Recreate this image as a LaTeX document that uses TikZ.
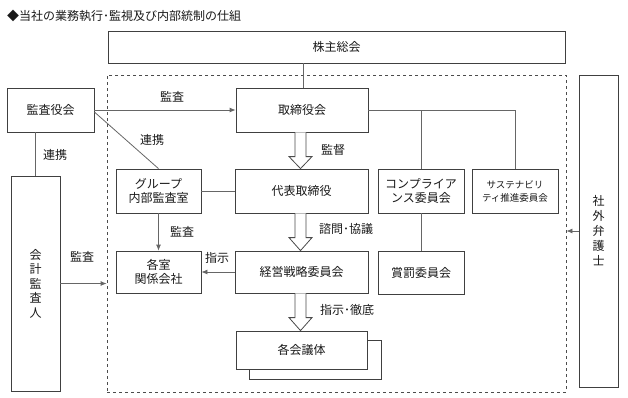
\documentclass[tikz,border=0pt]{standalone}
\usepackage{fontspec}
\setmainfont{Noto Sans CJK JP}
\usetikzlibrary{calc,arrows.meta}
\begin{document}
\begin{tikzpicture}[x=1pt,y=-1pt,
  every node/.style={font=\fontsize{12}{14.5}\selectfont, text=black!90, inner sep=0pt},
  box/.style={draw=black!75, line width=0.8pt, fill=white, align=center},
  conn/.style={draw=black!60, line width=0.8pt},
  arr/.style={conn, -{Latex[length=6pt,width=5pt]}},
  hol/.style={draw=black!70, line width=0.8pt, fill=white, line join=miter},
  lbl/.style={},
  small/.style={font=\fontsize{9.5}{13}\selectfont}
]
\useasboundingbox (0,0) rectangle (628,397);

% title
\node[anchor=west] (title) at (7,16) {◆当社の業務執行･監視及び内部統制の仕組};

% dashed frame
\node[draw=black!70, dashed, line width=0.8pt, minimum width=459, minimum height=317] (frame) at (336.5,233.5) {};

% boxes
\node[box, minimum width=457, minimum height=32] (kabu) at (336.5,47) {株主総会};
\node[box, minimum width=87, minimum height=44] (kansayaku) at (50.5,110) {監査役会};
\node[box, minimum width=132, minimum height=44] (tori) at (302,110) {取締役会};
\node[box, minimum width=49, minimum height=215, font=\fontsize{12}{14.5}\selectfont] (kaikei) at (35.5,283.5) {会\\計\\監\\査\\人};
\node[box, minimum width=85, minimum height=44] (group) at (158.5,191) {グループ\\内部監査室};
\node[box, minimum width=133, minimum height=44] (daihyo) at (301.5,191) {代表取締役};
\node[box, minimum width=86, minimum height=44] (comp) at (421,191) {コンプライア\\ンス委員会};
\node[box, minimum width=86, minimum height=44, small] (sust) at (515,191) {サステナビリ\\ティ推進委員会};
\node[box, minimum width=85, minimum height=42] (kaku) at (158.5,272) {各室\\関係会社};
\node[box, minimum width=133, minimum height=42] (keiei) at (301.5,272) {経営戦略委員会};
\node[box, minimum width=86, minimum height=43] (shobatsu) at (421,272.5) {賞罰委員会};
\node[box, minimum width=132, minimum height=39] (kaigishadow) at (315,359.5) {};
\node[box, minimum width=131, minimum height=38] (kaigi) at (301.5,350) {各会議体};
\node[box, minimum width=39, minimum height=312, font=\fontsize{12}{15}\selectfont] (bengoshi) at (598.5,231) {社\\外\\弁\\護\\士};

% connectors
\draw[conn] (tori.north -| 303,0) -- (kabu.south -| 303,0);
\draw[conn] (tori.east) -| (sust.north);
\draw[conn] (comp.north) -- (comp.north |- tori.east);
\draw[arr] (kansayaku.east) -- (tori.west);
\draw[conn] ($(kansayaku.east)+(0,2)$) -- (group.north);
\draw[conn] (kaikei.north) -- (kaikei.north |- kansayaku.south);
\draw[arr] (kaikei.east) -- (frame.west |- kaikei.east);
\draw[conn] (group.east) -- (daihyo.west);
\draw[arr] (group.south) -- (kaku.north);
\draw[arr] (keiei.west) -- (kaku.east);
\draw[conn] (comp.south) -- (shobatsu.north);
\draw[arr] (bengoshi.west) -- (frame.east |- bengoshi.west);

% hollow arrows
\draw[hol] let \p1=($(tori.south)+(-1.5,0)$), \p2=(daihyo.north) in
  (\x1-5.5pt,\y1) -- (\x1-5.5pt,\y2+12pt) -- (\x1-11.5pt,\y2+12pt) -- (\x1,\y2)
  -- (\x1+11.5pt,\y2+12pt) -- (\x1+5.5pt,\y2+12pt) -- (\x1+5.5pt,\y1);
\draw[hol] let \p1=($(daihyo.south)+(-1,0)$), \p2=(keiei.north) in
  (\x1-5.5pt,\y1) -- (\x1-5.5pt,\y2+13pt) -- (\x1-11.5pt,\y2+13pt) -- (\x1,\y2)
  -- (\x1+11.5pt,\y2+13pt) -- (\x1+5.5pt,\y2+13pt) -- (\x1+5.5pt,\y1);
\draw[hol] let \p1=($(keiei.south)+(-1,0)$), \p2=(kaigi.north) in
  (\x1-5.5pt,\y1) -- (\x1-5.5pt,\y2+13pt) -- (\x1-11.5pt,\y2+13pt) -- (\x1,\y2)
  -- (\x1+11.5pt,\y2+13pt) -- (\x1+5.5pt,\y2+13pt) -- (\x1+5.5pt,\y1);

% labels
\node[lbl] (l1) at (172,97) {監査};
\node[lbl] (l2) at (152,140) {連携};
\node[lbl] (l3) at (55,155) {連携};
\node[lbl] (l4) at (82,257) {監査};
\node[lbl] (l5) at (333,150) {監督};
\node[lbl] (l6) at (346,229) {諮問･協議};
\node[lbl] (l7) at (182,232) {監査};
\node[lbl] (l8) at (217,258) {指示};
\node[lbl] (l9) at (347,310) {指示･徹底};
\end{tikzpicture}
\end{document}
